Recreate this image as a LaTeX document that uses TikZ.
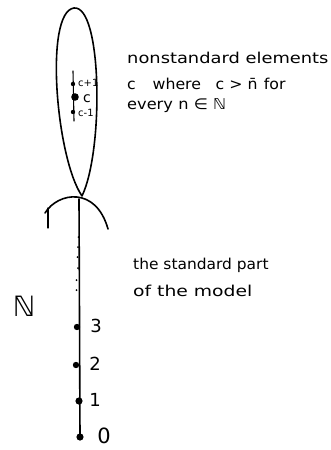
\documentclass[tikz,border=0pt]{standalone}
\usepackage{graphicx}
\usepackage{fontspec}
\setmainfont{DejaVu Sans}
\begin{document}
\begin{tikzpicture}[x=1pt,y=-1pt,
  pen/.style={line width=1.6pt,line cap=round,line join=round},
  thin pen/.style={line width=1.1pt,line cap=round},
  lbl/.style={anchor=west,inner sep=0pt,font=\fontsize{15}{17}\selectfont},
  num/.style={inner sep=0pt,font=\fontsize{18}{20}\selectfont},
  small/.style={anchor=west,inner sep=0pt,font=\fontsize{10}{12}\selectfont}]
\useasboundingbox (0,0) rectangle (330,450);
% named points
\coordinate (tip) at (82,196);
\coordinate (top) at (74,8);
\coordinate (arcL) at (45,213);
\coordinate (arcR) at (108,229);
\coordinate (tickT) at (48,208);
\coordinate (tickB) at (48,228);
\coordinate (lineT) at (79,199);
\coordinate (lineB) at (80,437);
\coordinate (cT) at (73,71);
\coordinate (cB) at (74,121);
\coordinate (cp) at (73,84);
\coordinate (c) at (75,97);
\coordinate (cm) at (73,112);
\coordinate (d3) at (77,327);
\coordinate (d2) at (76,365);
\coordinate (d1) at (79,401);
\coordinate (d0) at (80,437);
% oval of nonstandard elements
\draw[pen] (tip) .. controls (56,158) and (44,12) .. (top)
  .. controls (102,5) and (104,150) .. (tip);
% inner line with c-1, c, c+1
\draw[thin pen] (cT) -- (cB);
\fill (cp) circle (2.2);
\fill (c) circle (3.8);
\fill (cm) circle (2.2);
\node[small] (lcp) at (78,83) {c+1};
\node[small,font=\fontsize{14}{16}\selectfont] (lc) at (83,99) {c};
\node[small] (lcm) at (78,113) {c-1};
% arc
\draw[pen] (arcL) .. controls (58,192) and (96,186) .. (arcR);
\draw[thin pen] (tickT) -- (tickB);
% main line
\draw[pen] (lineT) -- (lineB);
% small dots (ellipsis)
\foreach \yy/\xx in {237/78.5,247/78,257/77.5,268/78,280/76.5,290/76.5}
  \fill (\xx,\yy) circle (1);
% standard numbers
\fill (d3) circle (3.2);
\fill (d2) circle (3.2);
\fill (d1) circle (3.6);
\fill (d0) circle (3.6);
\node[num] (n3) at (96,326) {3};
\node[num] (n2) at (95,364) {2};
\node[num] (n1) at (95,400) {1};
\node[num,font=\fontsize{21}{22}\selectfont] (n0) at (104,436) {0};
% N label
\node[inner sep=0pt,font=\fontsize{28}{30}\selectfont] (NN) at (24,306) {ℕ};
% texts
\node[lbl] (t1) at (127,58) {\scalebox{1.19}[1]{nonstandard elements}};
\node[lbl] (t2) at (127,84) {\scalebox{1.05}[1]{c\hspace{16pt}where\hspace{14pt}c > n̄\hspace{6pt}for}};
\node[lbl] (t3) at (127,106) {\scalebox{1.08}[1]{every\hspace{5pt}n ∈ ℕ}};
\node[lbl] (t4) at (133,265) {\scalebox{1.03}[1]{the standard part}};
\node[lbl] (t5) at (133,291) {\scalebox{1.25}[1]{of the model}};
\end{tikzpicture}
\end{document}
